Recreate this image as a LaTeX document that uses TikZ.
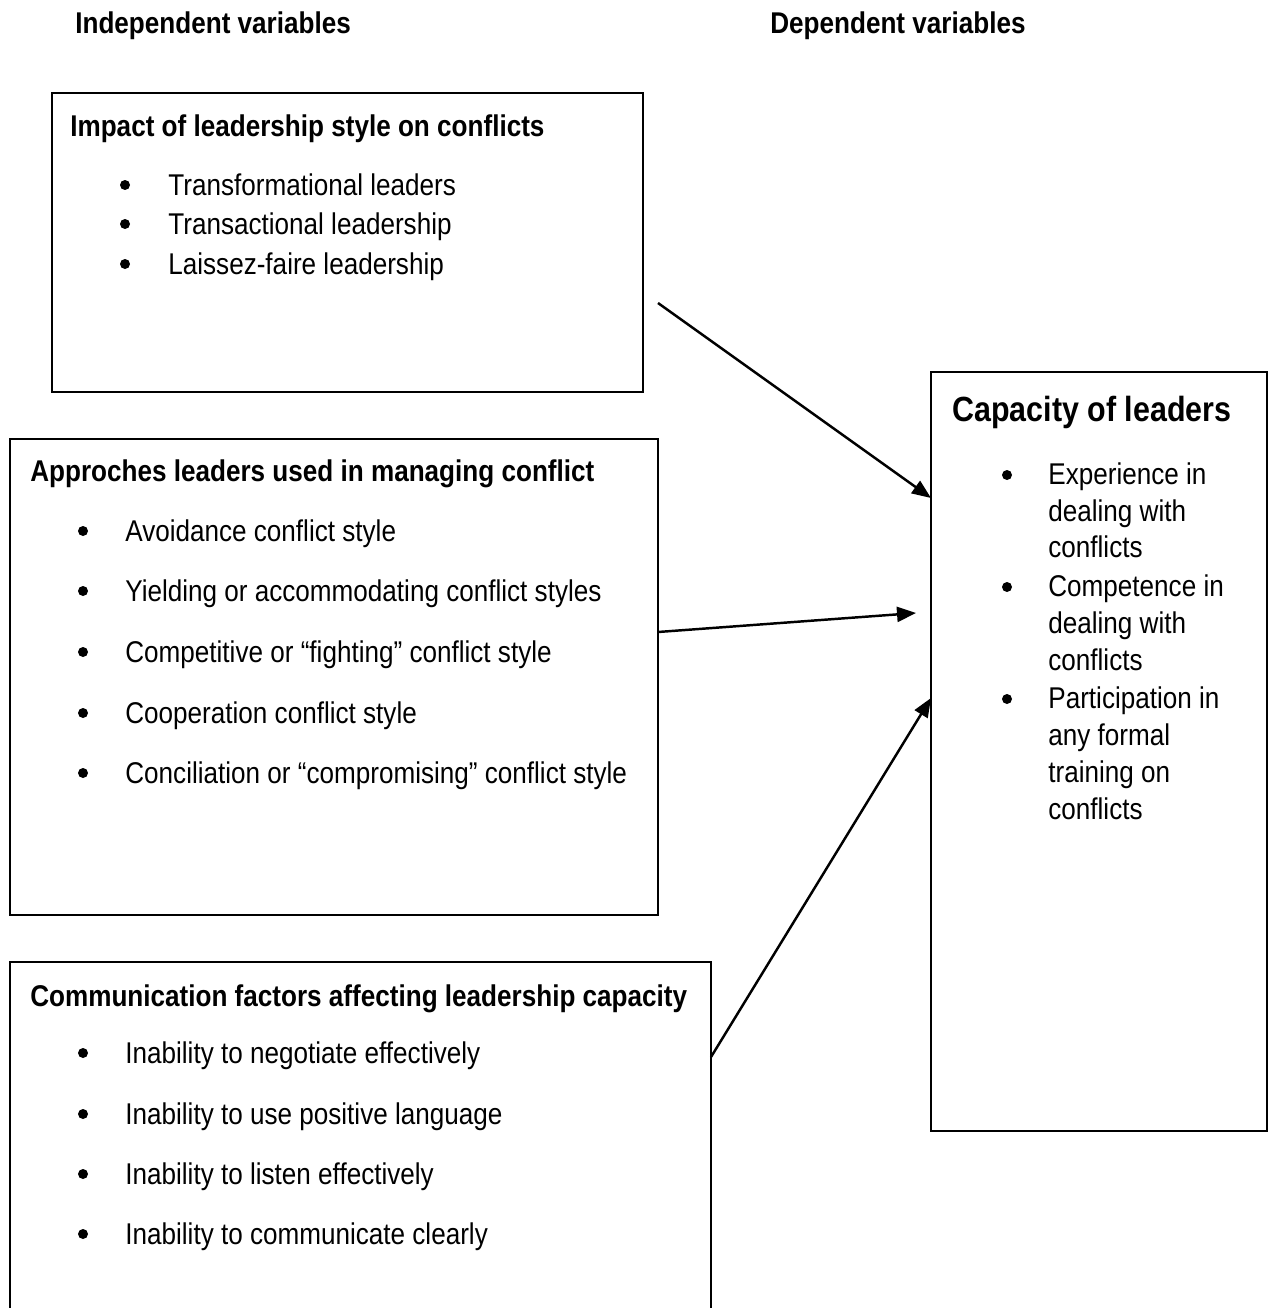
\documentclass[tikz,border=0pt]{standalone}
\usepackage{fontspec}
\setmainfont{Liberation Sans}[FakeStretch=0.87]
\usepackage{tikz}
\usetikzlibrary{
  positioning,
  arrows.meta,
  fit
}
\tikzset{
  >=Triangle,
  flowarrow/.style={-{Triangle[length=0.38cm,width=0.3cm]},line width=1.4pt},
  frame/.style={rectangle,draw,line width=1.2pt,inner sep=0pt},
  heading/.style={anchor=base west,inner sep=0pt,font=\fontsize{17.07}{20}\selectfont\bfseries},
  bigtitle/.style={anchor=base west,inner sep=0pt,font=\fontsize{19.9}{24}\selectfont\bfseries},
  item/.style={anchor=base west,inner sep=0pt,font=\fontsize{17.07}{20}\selectfont},
  dot/.style={circle,fill,inner sep=0pt,minimum size=0.2cm}
}

\begin{document}
\begin{tikzpicture}[x=0.02cm,y=-0.02cm]
    \useasboundingbox (0,0) rectangle (1273,1308);
    \clip (0,0) rectangle (1273,1308);

    % Column headings
    \node[heading] (indep) at (75,34) {Independent variables};
    \node[heading] (dep) at (770,34) {Dependent variables};

    % Frames
    \node[frame,fit={(52,93) (643,392)}] (style) {};
    \node[frame,fit={(10,439) (658,915)}] (approach) {};
    \node[frame,fit={(10,962) (711,1340)}] (comm) {};
    \node[frame,fit={(931,372) (1267,1131)}] (capacity) {};

    % Leadership style
    \node[heading] (style-t) at (70,136) {Impact of leadership style on conflicts};
    \foreach \y/\t [count=\i] in {195/Transformational leaders,234/Transactional leadership,274/Laissez-faire leadership}
      {\node[dot] (style-d\i) at (125,\y-10) {};
       \node[item] (style-i\i) at (168,\y) {\t};}

    % Approaches
    \node[heading] (approach-t) at (30,481) {Approches leaders used in managing conflict};
    \foreach \y/\t [count=\i] in {541/Avoidance conflict style,601/Yielding or accommodating conflict styles,662/Competitive or “fighting” conflict style,723/Cooperation conflict style,783/Conciliation or “compromising” conflict style}
      {\node[dot] (approach-d\i) at (83,\y-10) {};
       \node[item] (approach-i\i) at (125,\y) {\t};}

    % Communication
    \node[heading] (comm-t) at (30,1006) {Communication factors affecting leadership capacity};
    \foreach \y/\t [count=\i] in {1063/Inability to negotiate effectively,1124/Inability to use positive language,1184/Inability to listen effectively,1244/Inability to communicate clearly}
      {\node[dot] (comm-d\i) at (83,\y-10) {};
       \node[item] (comm-i\i) at (125,\y) {\t};}

    % Capacity of leaders
    \node[bigtitle] (capacity-t) at (952,421) {Capacity of leaders};
    \foreach \y in {484,596,708} \node[dot] (capacity-d\y) at (1007,\y-9) {};
    \foreach \y/\t [count=\i] in {484/Experience in,521/dealing with,557/conflicts,596/Competence in,633/dealing with,670/conflicts,708/Participation in,745/any formal,782/training on,819/conflicts}
      \node[item] (capacity-l\i) at (1048,\y) {\t};

    % Arrows
    \coordinate (s1) at (658,303);
    \coordinate (t1) at (931,498);
    \coordinate (s2) at (658,632);
    \coordinate (t2) at (916,613);
    \coordinate (s3) at (711,1057);
    \coordinate (t3) at (931,698);
    \draw[flowarrow] (s1) -- (t1);
    \draw[flowarrow] (s2) -- (t2);
    \draw[flowarrow] (s3) -- (t3);
\end{tikzpicture}
\end{document}
